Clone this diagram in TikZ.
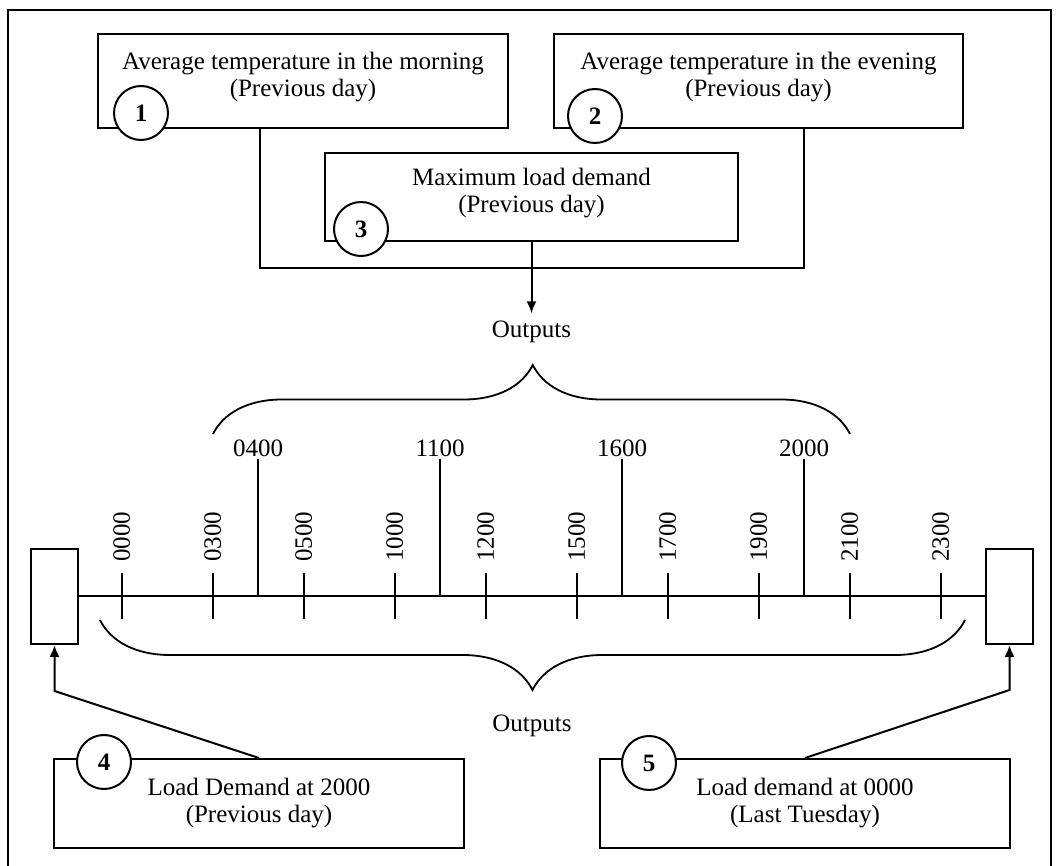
\documentclass[tikz,border=0pt]{standalone}
\usepackage{fontspec}
\setmainfont{Liberation Serif}
\usepackage{tikz}
\usetikzlibrary{arrows.meta,positioning,decorations.pathreplacing}
\tikzset{
  box/.style={draw,line width=1pt,align=center,inner sep=2pt},
  numc/.style={draw,circle,fill=white,line width=1pt,minimum size=27pt,inner sep=0pt,font=\fontsize{12.5}{13.5}\bfseries},
  arr/.style={-{Latex[length=6pt,width=5pt]},line width=1pt},
  brc/.style={decorate,decoration={brace,amplitude=35pt},line width=0.9pt},
  hour/.style={inner sep=1pt},
  vhour/.style={rotate=90,anchor=west,inner sep=0pt},
  frame/.style={line width=1.1pt}
}

\begin{document}
\begin{tikzpicture}[x=0.5pt,y=-0.5pt,line width=1pt,font=\fontsize{12.5}{13.5}\selectfont]
   \useasboundingbox (0,0) rectangle (1057,866);
   \draw[frame] (8,866) -- (8,10) -- (1051,10) -- (1051,866);

   % inputs of the previous day
   \node[box,minimum width=205pt,minimum height=47pt,text depth=7pt] (morn) at (303,81)
      {Average temperature in the morning\\(Previous day)};
   \node[box,minimum width=204.5pt,minimum height=47pt,text depth=7pt] (even) at (758.5,81)
      {Average temperature in the evening\\(Previous day)};
   \node[box,minimum width=206.5pt,minimum height=44pt,text depth=7pt] (maxld) at (531.5,197)
      {Maximum load demand\\(Previous day)};
   \node[numc] (n1) at ([xshift=22pt,yshift=8pt]morn.south west) {1};
   \node[numc] (n2) at ([xshift=21pt,yshift=6.5pt]even.south west) {2};
   \node[numc] (n3) at ([xshift=18.5pt,yshift=6.5pt]maxld.south west) {3};

   \coordinate (ujoin) at (531.5,268);
   \draw ([xshift=-21.5pt]morn.south) |- (ujoin) -| ([xshift=22.75pt]even.south);

   \node (out1) at (531.5,332) {Outputs};
   \draw[arr] (maxld.south) -- (out1.north);

   % time line
   \node[draw,minimum width=23.5pt,minimum height=47.5pt] (lbox) at (54.5,596.5) {};
   \node[draw,minimum width=23.5pt,minimum height=47.5pt] (rbox) at (1009.5,596.5) {};
   \draw (lbox.east) -- (rbox.west);

   \foreach \t [count=\i from 0] in {0400,1100,1600,2000} {
     \node[hour] (h\t) at (121.6+91*1.5+182*\i,448) {\t};
     \draw (h\t.south) -- (h\t |- lbox.east);
   }
   \foreach \t [count=\i from 0] in {0000,0300,0500,1000,1200,1500,1700,1900,2100,2300} {
     \node[vhour] (v\t) at (121.6+91*\i,563) {\t};
     \draw ([yshift=-5pt]v\t.west) -- ++(0,-23pt);
   }

   \coordinate (br1a) at (213,434);
   \coordinate (br1b) at (850,434);
   \draw[brc,decoration={amplitude=34.5pt,aspect=0.502}] (br1a) -- (br1b);
   \coordinate (br2a) at (965,620);
   \coordinate (br2b) at (100,620);
   \draw[brc] (br2a) -- (br2b);
   \node (out2) at (532,726) {Outputs};

   % inputs feeding the ends
   \node[box,minimum width=205pt,minimum height=44.5pt] (ldem) at (259,803.5)
      {Load Demand at 2000\\(Previous day)};
   \node[box,minimum width=205pt,minimum height=44.5pt] (ltue) at (805,803.5)
      {Load demand at 0000\\(Last Tuesday)};
   \node[numc] (n4) at ([xshift=25.5pt,yshift=-2pt]ldem.north west) {4};
   \node[numc] (n5) at ([xshift=25pt,yshift=-2.5pt]ltue.north west) {5};

   \coordinate (k4) at (54.5,691);
   \coordinate (k5) at (1009.5,690);
   \draw[arr] (ldem.north) -- (k4) -- (lbox.south);
   \draw[arr] (ltue.north) -- (k5) -- (rbox.south);
\end{tikzpicture}
\end{document}
